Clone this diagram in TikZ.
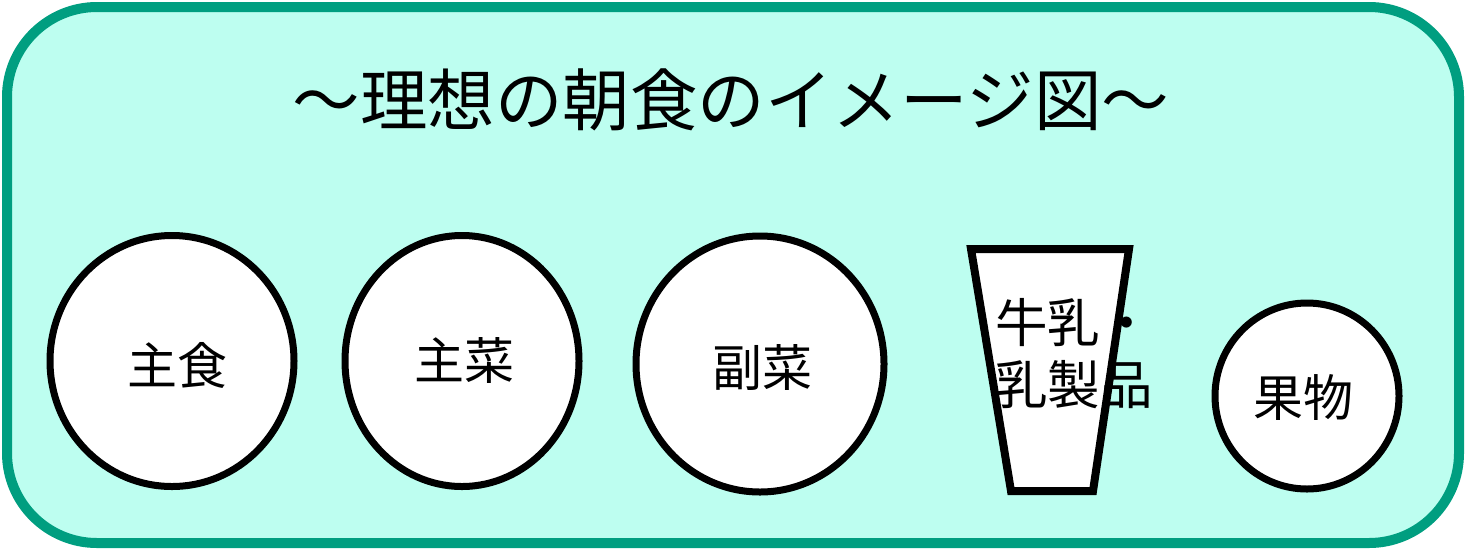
\documentclass[tikz,border=0pt]{standalone}
\usepackage{fontspec}
\setmainfont{Noto Sans CJK JP}
\usetikzlibrary{shapes.geometric}
\definecolor{panelfill}{HTML}{BDFEF0}
\definecolor{paneldraw}{HTML}{009E80}
\tikzset{
  plate/.style={ellipse, draw=black, fill=white, line width=7pt, inner sep=0pt},
  dish/.style={font=\fontsize{50}{62}\selectfont, inner sep=0pt},
}
\begin{document}
\begin{tikzpicture}[x=1pt,y=-1pt]
\useasboundingbox (0,0) rectangle (1466,550);
\draw[paneldraw, fill=panelfill, line width=10pt, rounded corners=90pt] (7,7) rectangle (1459,543);
\node[font=\fontsize{67.5}{70}\selectfont, inner sep=0pt] (title) at (731,100) {〜理想の朝食のイメージ図〜};
\node[plate, minimum width=244pt, minimum height=251pt] (p1) at (172,361) {};
\node[plate, minimum width=234pt, minimum height=251pt] (p2) at (462,361) {};
\node[plate, minimum width=248pt, minimum height=256pt] (p3) at (760,364) {};
\node[plate, minimum width=184pt, minimum height=186pt] (p4) at (1307,396) {};
\node[dish] (t1) at (177,365) {主食};
\node[dish] (t2) at (464,360) {主菜};
\node[dish] (t3) at (762,368) {副菜};
\node[dish] (t4) at (1303,397) {果物};
\coordinate (c1) at (971,249);
\coordinate (c2) at (1129,249);
\coordinate (c3) at (1093,491);
\coordinate (c4) at (1011,491);
\draw[black, fill=white, line width=8pt, line join=miter] (c1) -- (c2) -- (c3) -- (c4) -- cycle;
\node[dish, font=\fontsize{52.5}{62}\selectfont, align=left, anchor=west] (t5) at (995,354) {牛乳・\\乳製品};
\end{tikzpicture}
\end{document}
